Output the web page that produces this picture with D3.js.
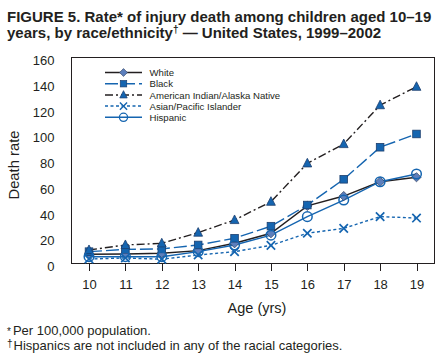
<!DOCTYPE html>
<html lang="en">
  <head>
    <meta charset="UTF-8">
    <script src="https://cdn.jsdelivr.net/npm/d3@7"></script>
    <style>
      body { margin: 0; background: #fff; }
      svg text { font-family: 'Liberation Sans', Arial, Helvetica, sans-serif; fill: #231f20; }
      .axis path, .axis line { stroke: #231f20; shape-rendering: crispEdges; }
      .axis text { font-size: 13px; }
    </style>
  </head>
  <body>
    <script>
      // Data
      let ages = [10, 11, 12, 13, 14, 15, 16, 17, 18, 19];
      let white    = [7.2, 7.4, 8, 10, 15.7, 23.5, 44.7, 52.4, 63.5, 67];
      let black    = [9.2, 11, 11.3, 14.4, 19.6, 29, 45.4, 65.4, 90.3, 100.6];
      let aian     = [10.5, 14.4, 15.7, 24, 33.8, 48, 77.8, 92.8, 123, 137.3];
      let asian    = [3.5, 4.3, 3.3, 6.6, 9.2, 14.1, 23.5, 27.3, 36.4, 35.3];
      let hispanic = [5.3, 5.3, 5.3, 9.2, 14.4, 22, 36.4, 49.3, 63.5, 69.5];
      let yTicks = [0, 20, 40, 60, 80, 100, 120, 140, 160];
      let seriesNames = ['White', 'Black', 'American Indian/Alaska Native', 'Asian/Pacific Islander', 'Hispanic'];

      let w = 446, h = 362;
      let plotLeft = 71.5, plotRight = 434.5, plotTop = 57.5, plotBottom = 263.5;
      let blue = '#1565b0', dark = '#231f20';

      let series = [
        { name: seriesNames[0], values: white,    color: dark, dash: null,          marker: 'diamond' },
        { name: seriesNames[1], values: black,    color: blue, dash: '13,4',        marker: 'square' },
        { name: seriesNames[2], values: aian,     color: dark, dash: '8,3,2,3',     marker: 'triangle' },
        { name: seriesNames[3], values: asian,    color: blue, dash: '3,2.5',       marker: 'cross' },
        { name: seriesNames[4], values: hispanic, color: blue, dash: null,          marker: 'circle' }
      ];

      let svg = d3.select('body').append('svg')
        .attr('width', w).attr('height', h);

      // Title
      let title = svg.append('text')
        .attr('x', 7).attr('y', 21.5)
        .attr('font-size', '15px').attr('font-weight', 'bold');
      title.append('tspan').text('FIGURE 5. Rate* of injury death among children aged 10\u201319');
      let t2 = svg.append('text')
        .attr('x', 7).attr('y', 38)
        .attr('font-size', '15px').attr('font-weight', 'bold');
      t2.append('tspan').text('years, by race/ethnicity');
      t2.append('tspan').text('\u2020').attr('font-size', '10px').attr('dy', -5);
      t2.append('tspan').text(' \u2014 United States, 1999\u20132002').attr('dy', 5);

      let xScale = d3.scaleLinear().domain([10, 19]).range([89, 416.5]);
      let yScale = d3.scaleLinear().domain([0, 160]).range([plotBottom, plotTop]);

      // Frame
      svg.append('rect')
        .attr('x', plotLeft).attr('y', plotTop)
        .attr('width', plotRight - plotLeft).attr('height', plotBottom - plotTop)
        .attr('fill', 'none').attr('stroke', dark).attr('stroke-width', 1)
        .attr('shape-rendering', 'crispEdges');

      // Axes
      let xAxis = d3.axisBottom(xScale).tickValues(ages).tickSize(7).tickPadding(9).tickSizeOuter(0);
      svg.append('g').attr('class', 'x axis')
        .attr('transform', 'translate(0,' + plotBottom + ')')
        .call(xAxis)
        .call(g => g.select('.domain').remove());

      let yAxis = d3.axisLeft(yScale).tickValues(yTicks).tickSize(0).tickPadding(17);
      svg.append('g').attr('class', 'y axis')
        .attr('transform', 'translate(' + plotLeft + ',0)')
        .call(yAxis)
        .call(g => g.select('.domain').remove())
        .call(g => g.selectAll('text').attr('dy', '0.55em'));

      // Axis titles
      svg.append('text')
        .attr('x', 257).attr('y', 312.5)
        .attr('text-anchor', 'middle').attr('font-size', '14.5px')
        .text('Age (yrs)');
      svg.append('text')
        .attr('transform', 'translate(18.5,165) rotate(-90)')
        .attr('text-anchor', 'middle').attr('font-size', '14.8px')
        .text('Death rate');

      // Footnotes
      let f1 = svg.append('text').attr('x', 7).attr('y', 335).attr('font-size', '13px');
      f1.append('tspan').text('*').attr('font-size', '10px');
      f1.append('tspan').text('Per 100,000 population.').attr('dx', 2);
      let f2 = svg.append('text').attr('x', 7).attr('y', 349.5).attr('font-size', '13px');
      f2.append('tspan').text('\u2020').attr('font-size', '10px').attr('dy', -3);
      f2.append('tspan').text('Hispanics are not included in any of the racial categories.').attr('dy', 3).attr('dx', 1);

      // Marker drawing
      function drawMarker(g, type, color) {
        if (type === 'diamond') {
          g.append('path').attr('d', 'M0,-4.6L4.6,0L0,4.6L-4.6,0Z')
            .attr('fill', '#5c7fbd').attr('stroke', '#3a4a6a').attr('stroke-width', 0.8);
        } else if (type === 'square') {
          g.append('rect').attr('x', -3.8).attr('y', -3.8).attr('width', 7.6).attr('height', 7.6)
            .attr('fill', blue).attr('stroke', '#1d3f6e').attr('stroke-width', 0.8);
        } else if (type === 'triangle') {
          g.append('path').attr('d', 'M0,-5L4.4,3.6L-4.4,3.6Z')
            .attr('fill', blue).attr('stroke', '#1d3f6e').attr('stroke-width', 0.8);
        } else if (type === 'cross') {
          g.append('path').attr('d', 'M-4.2,-4.2L4.2,4.2M-4.2,4.2L4.2,-4.2')
            .attr('stroke', blue).attr('stroke-width', 1.7).attr('fill', 'none');
        } else if (type === 'circle') {
          g.append('circle').attr('r', 4.8)
            .attr('fill', 'none').attr('stroke', blue).attr('stroke-width', 1.5);
        }
      }

      let line = d3.line()
        .x((d, i) => xScale(ages[i]))
        .y(d => yScale(d));

      // Lines first, then markers (draw in order so hispanic sits on top)
      let plot = svg.append('g');
      series.forEach(s => {
        plot.append('path')
          .datum(s.values)
          .attr('d', line)
          .attr('fill', 'none')
          .attr('stroke', s.color)
          .attr('stroke-width', 1.4)
          .attr('stroke-dasharray', s.dash);
      });
      series.forEach(s => {
        s.values.forEach((v, i) => {
          let g = plot.append('g').attr('transform', 'translate(' + xScale(ages[i]) + ',' + yScale(v) + ')');
          drawMarker(g, s.marker, s.color);
        });
      });

      // Legend
      let legend = svg.append('g');
      series.forEach((s, i) => {
        let y = 72.5 + i * 11.2;
        legend.append('line')
          .attr('x1', 105).attr('x2', 142).attr('y1', y).attr('y2', y)
          .attr('stroke', s.color).attr('stroke-width', 1.5)
          .attr('stroke-dasharray', s.dash);
        let g = legend.append('g').attr('transform', 'translate(123.5,' + y + ') scale(0.85)');
        drawMarker(g, s.marker, s.color);
        legend.append('text')
          .attr('x', 149.5).attr('y', y + 3.6)
          .attr('font-size', '9.6px')
          .text(s.name);
      });
    </script>
  </body>
</html>
